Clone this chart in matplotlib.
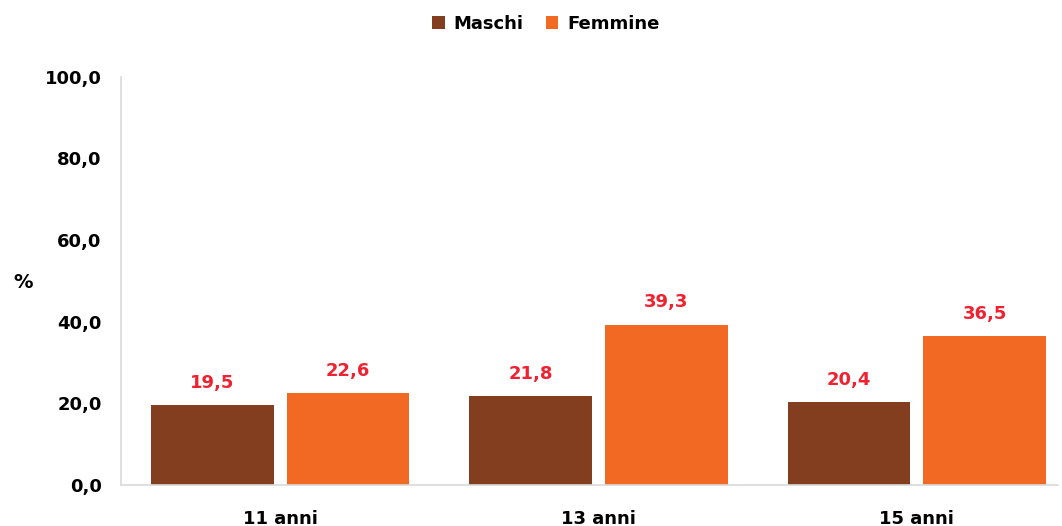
import matplotlib
matplotlib.use("Agg")
import matplotlib.pyplot as plt
import numpy as np

# ─── DATA ─────────────────────────────────────────────────────────────────
categories = ["11 anni", "13 anni", "15 anni"]
maschi = [19.5, 21.8, 20.4]
femmine = [22.6, 39.3, 36.5]
y_ticks = [0, 20, 40, 60, 80, 100]

COLOR_M = "#823E1E"
COLOR_F = "#F26924"
COLOR_LABEL = "#EE2230"

plt.rcParams["font.family"] = ["DejaVu Sans"]
plt.rcParams["font.weight"] = "bold"


def fmt(v):
    return f"{v:.1f}".replace(".", ",")


fig = plt.figure(figsize=(10.62, 5.26), dpi=100)
ax = fig.add_axes([0.114, 0.078, 0.882, 0.776])

x = np.arange(len(categories))
width = 0.386
off = 0.213

bars_m = ax.bar(x - off, maschi, width, color=COLOR_M, label="Maschi")
bars_f = ax.bar(x + off, femmine, width, color=COLOR_F, label="Femmine")

for bars, vals in ((bars_m, maschi), (bars_f, femmine)):
    for b, v in zip(bars, vals):
        ax.text(b.get_x() + b.get_width() / 2, v + 3.2, fmt(v),
                ha="center", va="bottom", color=COLOR_LABEL,
                fontsize=13, fontweight="bold")

ax.set_xlim(-0.5, 2.443)
ax.set_ylim(0, 100)
ax.set_yticks(y_ticks)
ax.set_yticklabels([fmt(v) for v in y_ticks], fontsize=13, fontweight="bold")
ax.set_xticks(x)
ax.set_xticklabels(categories, fontsize=13, fontweight="bold")
ax.tick_params(axis="y", length=0, pad=14)
ax.tick_params(axis="x", length=0, pad=18)

for s in ("top", "right"):
    ax.spines[s].set_visible(False)
for s in ("left", "bottom"):
    ax.spines[s].set_color("#D9D9D9")
    ax.spines[s].set_linewidth(1.2)

fig.text(0.013, 0.463, "%", fontsize=14, fontweight="bold", ha="left", va="center")

fig.legend(handles=[bars_m, bars_f], loc="center", bbox_to_anchor=(0.514, 0.955),
           ncol=2, frameon=False, fontsize=13, handlelength=0.7, handleheight=0.7,
           columnspacing=1.2, handletextpad=0.5)

fig.savefig("out.png", dpi=100)
plt.close(fig)
